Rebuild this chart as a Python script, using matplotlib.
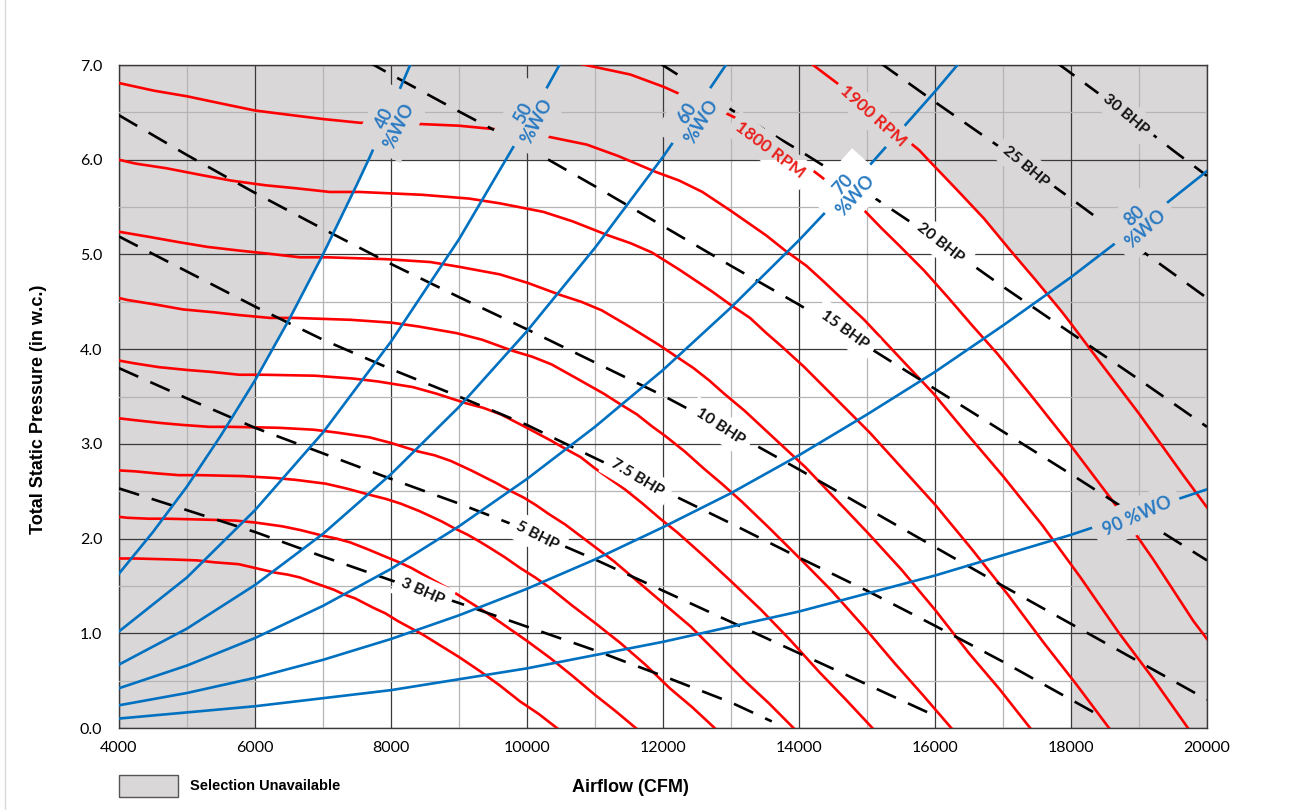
import matplotlib
matplotlib.use("Agg")
import matplotlib.pyplot as plt
from matplotlib.patches import Rectangle
from matplotlib.lines import Line2D

# ---------------- fan speed curves (CFM, in. w.c.) ----------------
RPM900_CFM = [4000, 4240, 4760, 5150, 5400, 5760, 6000, 6300, 6480, 6660, 6885, 7160, 7310, 7470, 7605, 7740, 7920, 8100, 8280, 8460, 8730, 9000, 9310, 9600, 9900, 10170, 10440]
RPM900_SP = [1.79, 1.79, 1.78, 1.77, 1.75, 1.73, 1.69, 1.64, 1.62, 1.59, 1.53, 1.46, 1.41, 1.37, 1.32, 1.27, 1.21, 1.13, 1.06, 0.99, 0.87, 0.75, 0.60, 0.45, 0.28, 0.15, 0.0]

RPM1000_CFM = [4000, 4120, 4440, 4710, 5290, 5720, 6000, 6400, 6670, 7000, 7200, 7400, 7650, 7950, 8120, 8300, 8450, 8600, 8800, 9000, 9200, 9400, 9700, 10000, 10340, 10670, 11000, 11300, 11600]
RPM1000_SP = [2.23, 2.22, 2.21, 2.21, 2.20, 2.19, 2.17, 2.13, 2.09, 2.03, 2.00, 1.96, 1.89, 1.80, 1.75, 1.69, 1.63, 1.57, 1.49, 1.40, 1.31, 1.22, 1.07, 0.92, 0.74, 0.55, 0.35, 0.18, 0.0]

RPM1100_CFM = [4000, 4240, 4530, 4880, 5180, 5820, 6290, 6600, 7040, 7340, 7700, 7920, 8140, 8420, 8750, 8930, 9130, 9300, 9460, 9680, 9900, 10120, 10340, 10670, 11000, 11370, 11740, 12100, 12430, 12760]
RPM1100_SP = [2.72, 2.71, 2.69, 2.67, 2.67, 2.66, 2.64, 2.62, 2.58, 2.53, 2.46, 2.42, 2.37, 2.29, 2.18, 2.11, 2.04, 1.97, 1.90, 1.80, 1.69, 1.59, 1.48, 1.29, 1.11, 0.90, 0.67, 0.42, 0.22, 0.0]

RPM1200_CFM = [4000, 4240, 4620, 4940, 5330, 5650, 6350, 6860, 7200, 7680, 8000, 8400, 8640, 8880, 9180, 9540, 9740, 9960, 10140, 10320, 10560, 10800, 11040, 11280, 11640, 12000, 12410, 12800, 13200, 13560, 13920]
RPM1200_SP = [3.27, 3.25, 3.22, 3.20, 3.18, 3.18, 3.17, 3.15, 3.12, 3.07, 3.01, 2.92, 2.88, 2.82, 2.72, 2.59, 2.51, 2.43, 2.35, 2.26, 2.15, 2.02, 1.89, 1.76, 1.54, 1.32, 1.07, 0.79, 0.50, 0.26, 0.0]

RPM1300_CFM = [4000, 4230, 4590, 5010, 5360, 5770, 6120, 6880, 7440, 7800, 8320, 8670, 9100, 9360, 9620, 9945, 10340, 10560, 10790, 10985, 11180, 11440, 11700, 11960, 12220, 12610, 13000, 13440, 13870, 14300, 14690, 15080]
RPM1300_SP = [3.88, 3.85, 3.81, 3.78, 3.76, 3.73, 3.73, 3.72, 3.69, 3.66, 3.60, 3.53, 3.43, 3.38, 3.31, 3.19, 3.04, 2.95, 2.86, 2.75, 2.65, 2.52, 2.37, 2.21, 2.06, 1.81, 1.55, 1.25, 0.93, 0.59, 0.30, 0.0]

RPM1400_CFM = [4000, 4120, 4550, 4940, 5390, 5770, 6220, 6590, 7410, 8010, 8400, 8960, 9340, 9800, 10080, 10360, 10710, 11130, 11370, 11620, 11830, 12040, 12320, 12600, 12880, 13160, 13580, 14000, 14480, 14940, 15400, 15820, 16240]
RPM1400_SP = [4.54, 4.52, 4.47, 4.42, 4.39, 4.36, 4.33, 4.33, 4.31, 4.28, 4.24, 4.17, 4.10, 3.98, 3.92, 3.84, 3.70, 3.53, 3.42, 3.31, 3.19, 3.08, 2.92, 2.74, 2.57, 2.39, 2.10, 1.80, 1.45, 1.08, 0.69, 0.35, 0.0]

RPM1500_CFM = [4000, 4410, 4880, 5300, 5780, 6180, 6660, 7070, 7940, 8580, 9000, 9600, 10010, 10500, 10800, 11100, 11480, 11930, 12180, 12450, 12680, 12900, 13200, 13500, 13800, 14100, 14550, 15000, 15510, 16010, 16500, 16950, 17400]
RPM1500_SP = [5.24, 5.19, 5.13, 5.08, 5.04, 5.01, 4.97, 4.97, 4.95, 4.92, 4.87, 4.79, 4.70, 4.57, 4.50, 4.41, 4.25, 4.05, 3.93, 3.80, 3.67, 3.53, 3.35, 3.15, 2.95, 2.75, 2.41, 2.07, 1.67, 1.24, 0.79, 0.41, 0.0]

RPM1600_CFM = [4000, 4240, 4700, 5200, 5650, 6160, 6590, 7100, 7540, 8460, 9150, 9600, 10240, 10670, 11200, 11520, 11840, 12240, 12720, 12990, 13280, 13520, 13760, 14080, 14400, 14720, 15040, 15520, 16000, 16540, 17070, 17600, 18080, 18560]
RPM1600_SP = [6.00, 5.96, 5.91, 5.84, 5.78, 5.73, 5.70, 5.66, 5.66, 5.63, 5.59, 5.54, 5.45, 5.35, 5.20, 5.12, 5.02, 4.84, 4.61, 4.47, 4.33, 4.17, 4.02, 3.81, 3.58, 3.35, 3.12, 2.74, 2.36, 1.89, 1.41, 0.90, 0.46, 0.0]

RPM1700_CFM = [4000, 4510, 5000, 5530, 6000, 6550, 7000, 7550, 8010, 8990, 9720, 10200, 10880, 11340, 11900, 12240, 12580, 13000, 13520, 13800, 14110, 14370, 14620, 14960, 15300, 15640, 15980, 16490, 17000, 17580, 18140, 18700, 19210, 19720]
RPM1700_SP = [6.81, 6.73, 6.67, 6.59, 6.52, 6.47, 6.43, 6.39, 6.39, 6.36, 6.31, 6.26, 6.16, 6.04, 5.87, 5.78, 5.66, 5.46, 5.20, 5.04, 4.88, 4.71, 4.54, 4.31, 4.05, 3.79, 3.53, 3.09, 2.66, 2.14, 1.59, 1.01, 0.52, 0.0]

RPM1800_CFM = [4000, 4770, 5290, 5850, 6350, 6930, 7420, 7990, 8480, 9520, 10300, 10800, 11520, 12010, 12600, 12960, 13320, 13770, 14310, 14620, 14940, 15210, 15480, 15840, 16200, 16560, 16920, 17460, 18000, 18610, 19210, 19800, 20000]
RPM1800_SP = [7.68, 7.55, 7.48, 7.39, 7.31, 7.25, 7.21, 7.16, 7.16, 7.13, 7.08, 7.01, 6.90, 6.77, 6.58, 6.48, 6.35, 6.12, 5.83, 5.65, 5.48, 5.28, 5.09, 4.83, 4.54, 4.24, 3.95, 3.47, 2.98, 2.40, 1.78, 1.13, 0.94]

RPM1900_CFM = [11400, 12160, 12670, 13300, 13680, 14060, 14540, 15110, 15430, 15770, 15900, 16060, 16340, 16720, 17100, 17480, 17860, 18000, 18430, 19000, 19650, 20000]
RPM1900_SP = [7.82, 7.69, 7.54, 7.33, 7.22, 7.08, 6.82, 6.50, 6.30, 6.10, 6.00, 5.88, 5.67, 5.38, 5.05, 4.73, 4.40, 4.27, 3.86, 3.32, 2.67, 2.33]

# ---------------- system curves (% wide open) ----------------
WO40_CFM = [4000, 4500, 5000, 5500, 6000, 6500, 7000, 7500, 7670, 8000, 8300]
WO40_SP = [1.63, 2.07, 2.55, 3.09, 3.67, 4.31, 5.00, 5.74, 6.00, 6.53, 7.03]

WO50_CFM = [4000, 5000, 6000, 7000, 8000, 9000, 10000, 10500]
WO50_SP = [1.02, 1.59, 2.30, 3.12, 4.08, 5.16, 6.38, 7.03]

WO60_CFM = [4000, 5000, 6000, 7000, 8000, 9000, 10000, 11000, 12000, 12500, 13000]
WO60_SP = [0.67, 1.05, 1.51, 2.05, 2.68, 3.39, 4.19, 5.07, 6.03, 6.55, 7.08]

WO70_CFM = [4000, 5000, 6000, 7000, 8000, 9000, 10000, 11000, 12000, 13000, 14000, 15000, 16000, 16400]
WO70_SP = [0.42, 0.66, 0.95, 1.29, 1.68, 2.13, 2.63, 3.18, 3.78, 4.44, 5.15, 5.91, 6.72, 7.06]

WO80_CFM = [4000, 5000, 6000, 7000, 8000, 9000, 10000, 11000, 12000, 13000, 14000, 15000, 16000, 17000, 18000, 19000, 20000]
WO80_SP = [0.24, 0.37, 0.53, 0.72, 0.94, 1.19, 1.47, 1.78, 2.12, 2.48, 2.88, 3.31, 3.76, 4.25, 4.76, 5.31, 5.88]

WO90_CFM = [4000, 6000, 8000, 10000, 12000, 14000, 16000, 18000, 20000]
WO90_SP = [0.10, 0.23, 0.40, 0.63, 0.91, 1.23, 1.61, 2.04, 2.52]

# ---------------- brake horsepower lines ----------------
BHP3_CFM = [4000, 5000, 6000, 7000, 8000, 9000, 10000, 11000, 12000, 13000, 13600]
BHP3_SP = [2.53, 2.30, 2.07, 1.81, 1.56, 1.32, 1.07, 0.82, 0.55, 0.27, 0.07]

BHP5_CFM = [4000, 5000, 6000, 7000, 8000, 9000, 10000, 11000, 12000, 13000, 14000, 15000, 16000]
BHP5_SP = [3.80, 3.48, 3.17, 2.90, 2.63, 2.37, 2.09, 1.78, 1.45, 1.12, 0.79, 0.46, 0.13]

BHP7_5_CFM = [4000, 5000, 6000, 7000, 8000, 9000, 10000, 11000, 12000, 13000, 14000, 15000, 16000, 17000, 18000, 18350]
BHP7_5_SP = [5.19, 4.82, 4.45, 4.10, 3.79, 3.50, 3.20, 2.85, 2.51, 2.16, 1.80, 1.45, 1.08, 0.70, 0.30, 0.16]

BHP10_CFM = [4000, 5000, 6000, 7000, 8000, 9000, 10000, 11000, 12000, 13000, 14000, 15000, 16000, 17000, 18000, 19000, 20000]
BHP10_SP = [6.47, 6.05, 5.65, 5.27, 4.90, 4.55, 4.21, 3.86, 3.51, 3.13, 2.73, 2.32, 1.91, 1.50, 1.10, 0.70, 0.30]

BHP15_CFM = [7650, 8000, 9000, 10000, 11000, 12000, 13000, 14000, 15000, 16000, 17000, 18000, 19000, 20000]
BHP15_SP = [7.04, 6.90, 6.51, 6.13, 5.72, 5.30, 4.88, 4.47, 4.03, 3.58, 3.13, 2.68, 2.22, 1.77]

BHP20_CFM = [11950, 12500, 13000, 14000, 15000, 16000, 17000, 18000, 19000, 20000]
BHP20_SP = [7.02, 6.77, 6.53, 6.10, 5.65, 5.17, 4.66, 4.17, 3.68, 3.18]

BHP25_CFM = [15200, 16000, 17000, 18000, 19000, 20000]
BHP25_SP = [7.02, 6.61, 6.11, 5.59, 5.06, 4.54]

BHP30_CFM = [17800, 18500, 19000, 19500, 20000]
BHP30_SP = [7.02, 6.65, 6.38, 6.10, 5.83]

X_TICKS = [4000, 6000, 8000, 10000, 12000, 14000, 16000, 18000, 20000]
Y_TICKS = [0, 1, 2, 3, 4, 5, 6, 7]

# selection window (white area): 40% WO curve, 6.0 in., 1900 RPM curve, 18000 CFM
SEL_MIN_CFM = 6000
SEL_MAX_CFM = 18000
SEL_MAX_SP = 6.0

GRAY = '#d9d7d8'
RED = '#ff0000'
BLUE = '#0070c0'
LBL_BLUE = '#2b7bc2'
LBL_RED = '#e8201c'

plt.rcParams['font.family'] = ['Lato', 'DejaVu Sans']

fig = plt.figure(figsize=(12.96, 8.1), dpi=100)
ax = fig.add_axes([0.0918, 0.1012, 0.8395, 0.8185])
ax.set_facecolor(GRAY)

# white "available" region
poly_x = [SEL_MIN_CFM]
poly_y = [0.0]
for x, y in zip(WO40_CFM, WO40_SP):
    if x >= SEL_MIN_CFM and y <= SEL_MAX_SP:
        poly_x.append(x)
        poly_y.append(y)
for x, y in zip(RPM1900_CFM, RPM1900_SP):
    if y <= SEL_MAX_SP and x <= SEL_MAX_CFM:
        poly_x.append(x)
        poly_y.append(y)
poly_x += [SEL_MAX_CFM]
poly_y += [0.0]
ax.fill(poly_x, poly_y, color='white', zorder=1, lw=0)

# fan curves
rpm_curves = [
    (RPM900_CFM, RPM900_SP), (RPM1000_CFM, RPM1000_SP), (RPM1100_CFM, RPM1100_SP),
    (RPM1200_CFM, RPM1200_SP), (RPM1300_CFM, RPM1300_SP), (RPM1400_CFM, RPM1400_SP),
    (RPM1500_CFM, RPM1500_SP), (RPM1600_CFM, RPM1600_SP), (RPM1700_CFM, RPM1700_SP),
    (RPM1800_CFM, RPM1800_SP), (RPM1900_CFM, RPM1900_SP),
]
for xs, ys in rpm_curves:
    ax.plot(xs, ys, color=RED, lw=1.9, zorder=3, solid_joinstyle='round')

wo_curves = [
    (WO40_CFM, WO40_SP), (WO50_CFM, WO50_SP), (WO60_CFM, WO60_SP),
    (WO70_CFM, WO70_SP), (WO80_CFM, WO80_SP), (WO90_CFM, WO90_SP),
]
for xs, ys in wo_curves:
    ax.plot(xs, ys, color=BLUE, lw=1.9, zorder=4, solid_joinstyle='round')

bhp_curves = [
    (BHP3_CFM, BHP3_SP), (BHP5_CFM, BHP5_SP), (BHP7_5_CFM, BHP7_5_SP),
    (BHP10_CFM, BHP10_SP), (BHP15_CFM, BHP15_SP), (BHP20_CFM, BHP20_SP),
    (BHP25_CFM, BHP25_SP), (BHP30_CFM, BHP30_SP),
]
for xs, ys in bhp_curves:
    ax.plot(xs, ys, color='black', lw=1.9, dashes=(8, 5), zorder=3.5)


# in-line labels: one or more background boxes (optionally clipped), then the text once
def label(txt, x, y, rot, color, boxes, size, pad=0.35):
    kw = dict(rotation=rot, rotation_mode='anchor', ha='center', va='center',
              multialignment='center', linespacing=0.95, fontsize=size,
              fontweight='bold', zorder=6)
    for bg, clip in boxes:
        box = ax.text(x, y, txt, color='none',
                      bbox=dict(boxstyle='square,pad=%s' % pad, fc=bg, ec='none'), **kw)
        if clip is not None:
            box.set_clip_on(True)
            box.set_clip_path(clip)
    ax.text(x, y, txt, color=color, **kw)


W = [('white', None)]
G = [(GRAY, None)]
label('3 BHP', 8471, 1.44, -24, '#111111', W, 11.5, pad=0.45)
label('5 BHP', 10147, 2.03, -27, '#111111', W, 11.5, pad=0.45)
label('7.5 BHP', 11618, 2.64, -31, '#111111', W, 11.5, pad=0.45)
label('10 BHP', 12838, 3.18, -33, '#111111', W, 11.5, pad=0.45)
label('15 BHP', 14677, 4.20, -36, '#111111', W, 11.5, pad=0.45)
label('20 BHP', 16074, 5.12, -38, '#111111', W, 11.5, pad=0.45)
label('25 BHP', 17338, 5.93, -40, '#111111', G, 11.5, pad=0.45)
label('30 BHP', 18809, 6.48, -40, '#111111', G, 11.5, pad=0.45)

label('40\n%WO', 8015, 6.40, 64, LBL_BLUE, G, 13, pad=0.5)
label('50\n%WO', 10044, 6.45, 62, LBL_BLUE, G, 13, pad=0.5)
label('60\n%WO', 12456, 6.45, 58, LBL_BLUE, G, 13, pad=0.5)
label('70\n%WO', 14735, 5.68, 48, LBL_BLUE, W, 13, pad=0.5)
label('80\n%WO', 19015, 5.34, 42, LBL_BLUE, G, 13, pad=0.5)
label('90 %WO', 18970, 2.24, 24, LBL_BLUE, G, 13, pad=0.5)

# 1800 RPM sits on the edge of the selection window: gray box above, white below
upper = Rectangle((4000, SEL_MAX_SP), 16000, 7 - SEL_MAX_SP, transform=ax.transData)
lower = Rectangle((4000, 0), 16000, SEL_MAX_SP, transform=ax.transData)
label('1800 RPM', 13574, 6.10, -37, LBL_RED, [(GRAY, upper), ('white', lower)], 12.5)
label('1900 RPM', 15088, 6.46, -42, LBL_RED, G, 12.5)

# axes, ticks, grid
ax.set_xlim(4000, 20000)
ax.set_ylim(0, 7)
ax.set_xticks(X_TICKS)
ax.set_xticks([t + 1000 for t in X_TICKS[:-1]], minor=True)
ax.set_yticks(Y_TICKS)
ax.set_yticklabels(['%.1f' % t for t in Y_TICKS])
ax.set_yticks([t + 0.5 for t in Y_TICKS[:-1]], minor=True)
ax.tick_params(which='both', length=0)
ax.tick_params(axis='x', pad=9, labelsize=11.5)
ax.tick_params(axis='y', pad=12, labelsize=11.5)
ax.set_axisbelow(False)
ax.grid(which='major', color='#3a3a3a', lw=0.9)
ax.grid(which='minor', color='#b5b5b5', lw=0.9)
for s in ax.spines.values():
    s.set_color('#3a3a3a')
    s.set_linewidth(1.0)

ax.set_xlabel('Airflow (CFM)', family='Liberation Sans', fontweight='bold', fontsize=13)
ax.xaxis.set_label_coords(0.47, -0.077)
ax.set_ylabel('Total Static Pressure (in w.c.)', family='Liberation Sans', fontweight='bold', fontsize=13)
ax.yaxis.set_label_coords(-0.066, 0.481)

# legend swatch
fig.patches.append(Rectangle((0.0918, 0.016), 0.0455, 0.027, transform=fig.transFigure,
                             fc=GRAY, ec='#555555', lw=1.0))
fig.text(0.1466, 0.0296, 'Selection Unavailable', family='Liberation Sans', fontweight='bold',
         fontsize=10.5, va='center', ha='left')
fig.add_artist(Line2D([5 / 1296, 5 / 1296], [0, 1], color='#d9d9d9', lw=1.0))

fig.savefig('out.png', dpi=100)
